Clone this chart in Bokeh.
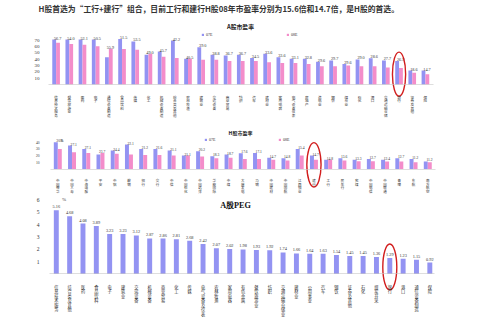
import numpy as np
from bokeh.plotting import figure
from bokeh.layouts import column
from bokeh.models import Range1d, FixedTicker, Legend, LegendItem
from bokeh.core.properties import value
from bokeh.embed import file_html
from bokeh.resources import INLINE

# ---------------- data ----------------
header = "H股首选为“工行+建行”组合，目前工行和建行H股08年市盈率分别为15.6倍和14.7倍，是H股的首选。"

a_pe_title = "A股市盈率"
a_pe_cats = ["信息技术服务", "餐饮旅游业", "医药", "电子", "通信设备制造", "食品饮料", "传媒", "化工",
             "机械设备制造", "综合类及其他", "农林牧渔", "建筑业", "交运设备", "商业贸易", "纺织", "汽车",
             "建材业", "家用电器", "电气设备仪表", "房地产", "造纸业", "钢铁", "煤炭业", "石化", "港口",
             "交通运输仓储", "银行", "证券及其他", "保险"]
a_pe_07 = [71, 71, 71, 71, 43, 72, 68, 47, 52, 69.5, 40.5, 59, 47, 46, 47, 42, 48.5, 43, 40.5, 40.5,
           36, 38, 32.5, 39.5, 41.5, 38, 37, 22, 22]
a_pe_08 = [66, 64, 62.6, 60.5, 56.4, 56, 55, 48.5, 44, 42, 40.5, 39, 39, 37, 37, 37, 35, 34, 34, 32.5,
           29, 29, 30, 29, 29, 27, 26, 18.5, 16]
a_pe_lbl = ["56.7", "54.0", "52.1", "50.5", "55.9", "51.5", "53.5", "49.0", "45.7", "42.2", "40.5", "39.0",
            "38.8", "36.7", "36.7", "34.5", "33.6", "33.6", "33.1", "32.8", "29.6", "29.7", "29.6", "29.0",
            "28.6", "27.7", "26.9", "18.6", "14.7"]
a_pe_yticks = [10, 20, 30, 40, 50, 60, 70]
a_pe_highlight = "银行"

h_pe_title = "H股市盈率"
h_pe_cats = ["中国神华", "中国人寿", "中海油服", "平安", "中铝", "鞍钢", "招行", "交行", "中信",
             "中国石化", "中国远洋", "华能国际", "中煤", "大唐发电", "马钢", "中国建材", "中国国航",
             "江西铜业", "建行", "工行", "民生行", "兖煤", "中国电信", "中国联通", "青啤", "东航", "南方航空"]
h_pe_07 = [40, 35, 30, 21.6, 27.6, 36.5, 30, 30, 27.6, 20, 26.6, 19, 21.6, 23.6, 24, 16.7, 16, 30, 20,
           13.7, 16, 13.7, 15, 13.7, 16, 15, 11.2]
h_pe_08 = [30, 25, 24, 24, 22.7, 21.6, 21, 21, 20, 20, 18.7, 16, 16.7, 15, 15, 13.7, 12.7, 20, 13.7,
           13.7, 12.7, 11.7, 11.7, 11.2, 11.2, 10, 10]
h_pe_lbl = ["30.8", "27.1", "27.1", "23.7", "24.4", "22.1", "21.2", "21.6", "21.1", "21.1", "20.2", "18.3",
            "18.7", "17.6", "17.1", "14.7", "14.8", "15.4", "14.7", "14.8", "13.6", "13.3", "12.7", "12.4",
            "12.7", "11.2", "11.2"]
h_pe_yticks = [10, 20, 30, 40]
h_pe_highlight = "建行"

series_names = ["07E", "08E"]

peg_title = "A股PEG"
peg_cats = ["信息技术服务", "综合类及其他", "医药", "食品饮料", "电子", "建筑业", "交运设备", "机械设备",
            "商业贸易", "化工", "传媒", "电气设备及仪表", "农林牧渔", "家用电器", "有色金属", "餐饮旅游业",
            "纺织", "交通运输仓储业", "建材业", "公用事业", "汽车", "钢铁", "证券及其他", "石化", "煤炭开采",
            "银行", "港口", "通信设备制造", "保险"]
peg_vals = [5.16, 4.68, 4.08, 3.89, 3.23, 3.23, 3.12, 2.87, 2.86, 2.81, 2.68, 2.42, 2.07, 2.02, 1.98,
            1.93, 1.92, 1.74, 1.66, 1.64, 1.63, 1.54, 1.45, 1.45, 1.36, 1.29, 1.23, 1.15, 0.92]
peg_yticks = [1, 2, 3, 4, 5, 6]
peg_highlight = "银行"

# ---------------- style ----------------
W = 480
PURPLE = "#9393F2"
PINK = "#F38DCA"
RED = "#D21E1E"
INK = "#333333"
CJK = "Noto Sans CJK SC"
SERIF = "Liberation Serif"


def setup(h, c0, step, base, scale):
    fig = figure(width=W, height=h,
                 x_range=Range1d(-c0 / step, (W - c0) / step),
                 y_range=Range1d(-(h - base) / scale, base / scale),
                 output_backend="svg", toolbar_location=None, min_border=0,
                 outline_line_color=None, border_fill_color="white",
                 background_fill_color="white")
    fig.grid.visible = False
    X = lambda px: (px - c0) / step
    Y = lambda py: (base - py) / scale
    return fig, X, Y


def style_axes(fig, X, cats, yticks, tick_size, cat_size, standoff, x_left, x_right):
    xa = fig.xaxis[0]
    ya = fig.yaxis[0]
    xa.fixed_location = 0
    xa.bounds = (X(x_left), X(x_right))
    xa.ticker = FixedTicker(ticks=list(range(len(cats))))
    xa.major_label_overrides = {i: "\n".join(c) for i, c in enumerate(cats)}
    xa.major_label_text_font = CJK
    xa.major_label_text_font_size = cat_size
    xa.major_label_text_line_height = 0.74
    xa.major_label_text_color = INK
    xa.major_label_standoff = standoff
    xa.major_tick_line_color = None
    xa.minor_tick_line_color = None
    xa.axis_line_color = "#c8c8c8"
    xa.axis_line_width = 0.6
    ya.fixed_location = X(47)
    ya.ticker = FixedTicker(ticks=yticks)
    ya.major_label_text_font = SERIF
    ya.major_label_text_font_size = tick_size
    ya.major_label_text_color = INK
    ya.major_label_standoff = 2
    ya.axis_line_color = None
    ya.major_tick_line_color = None
    ya.minor_tick_line_color = None


def pair_panel(h, c0, step, base, scale, cats, v07, v08, lbls, yticks, title, title_py, title_size,
               legend_loc, legend_spacing, highlight, ell_top_pad, ell_bottom, bar_w,
               tick_size, cat_size, lbl_size, standoff, x_left, x_right):
    fig, X, Y = setup(h, c0, step, base, scale)
    idx = np.arange(len(cats))
    r07 = fig.vbar(x=idx - bar_w / 2, top=v07, width=bar_w, fill_color=PURPLE, line_color=None)
    r08 = fig.vbar(x=idx + bar_w / 2, top=v08, width=bar_w, fill_color=PINK, line_color=None)
    tops = np.maximum(v07, v08)
    fig.text(x=idx + 0.12, y=tops, text=lbls, text_font=value(SERIF), text_font_size=lbl_size,
             text_align="center", text_baseline="bottom", text_color=INK)
    fig.text(x=[X(240)], y=[Y(title_py)], text=[title], text_font=value(CJK), text_font_size=title_size,
             text_font_style="bold", text_align="center", text_baseline="middle", text_color="#222222")
    hi = cats.index(highlight)
    top = tops[hi] + ell_top_pad / scale
    bot = -ell_bottom / scale
    fig.ellipse(x=[hi], y=[(top + bot) / 2], width=[1.0], height=[top - bot],
                fill_color=None, line_color=RED, line_width=1.4)
    style_axes(fig, X, cats, yticks, tick_size, cat_size, standoff, x_left, x_right)
    leg = Legend(items=[LegendItem(label=series_names[0], renderers=[r07]),
                        LegendItem(label=series_names[1], renderers=[r08])],
                 orientation="horizontal", location=legend_loc, glyph_width=3, glyph_height=3,
                 label_text_font_size="4px", label_text_font=SERIF, label_text_color=INK,
                 label_height=4, label_width=8, label_standoff=2, spacing=legend_spacing,
                 padding=0, margin=0, border_line_color=None, background_fill_alpha=0)
    fig.add_layout(leg)
    return fig, X, Y


# ---- panel 1 : A-share PE ----
p1, X1, Y1 = pair_panel(120, 55.6, 13.19, 84, 0.633, a_pe_cats, a_pe_07, a_pe_08, a_pe_lbl,
                        a_pe_yticks, a_pe_title, 26, "5.8px", (201, 83), 72, a_pe_highlight,
                        9, 11.7, 0.29, "5px", "3.6px", "4.2px", 4, 48, 433)
p1.text(x=[X1(38)], y=[Y1(8)], text=[header], text_font=value(CJK), text_font_size="7.8px",
        text_font_style="bold", text_align="left", text_baseline="middle", text_color="#333333")

# ---- panel 2 : H-share PE ----
p2, X2, Y2 = pair_panel(74, 57.3, 14.23, 48.5, 0.67, h_pe_cats, h_pe_07, h_pe_08, h_pe_lbl,
                        h_pe_yticks, h_pe_title, 12, "5px", (204, 52), 61, h_pe_highlight,
                        13, 18, 0.28, "3.6px", "3.5px", "3.6px", 3, 50, 435)
p2.text(x=[X2(61.5)], y=[Y2(20)], text=["%"], text_font=value(SERIF), text_font_size="4px",
        text_align="center", text_baseline="middle", text_color=INK)

# ---- panel 3 : A-share PEG ----
p3, X3, Y3 = setup(126, 55.8, 13.34, 79.4, 12.34)
idx3 = np.arange(len(peg_cats))
p3.vbar(x=idx3, top=peg_vals, width=0.37, fill_color=PURPLE, line_color=None)
p3.text(x=idx3, y=peg_vals, y_offset=-2, text=[f"{v:.2f}" for v in peg_vals], text_font=value(SERIF),
        text_font_size="4.3px", text_align="center", text_baseline="bottom", text_color=INK)
p3.text(x=[X3(235)], y=[Y3(11)], text=[peg_title], text_font=value(SERIF), text_font_size="8.2px",
        text_font_style="bold", text_align="center", text_baseline="middle", text_color="#111111")
p3.text(x=[X3(63.5)], y=[Y3(4.5)], text=["%"], text_font=value(SERIF), text_font_size="5px",
        text_align="center", text_baseline="middle", text_color=INK)
hi3 = peg_cats.index(peg_highlight)
top3 = peg_vals[hi3] + 14 / 12.34
bot3 = -16 / 12.34
p3.ellipse(x=[hi3], y=[(top3 + bot3) / 2], width=[1.05], height=[top3 - bot3],
           fill_color=None, line_color=RED, line_width=1.4)
style_axes(p3, X3, peg_cats, peg_yticks, "5.5px", "4.2px", 4, 49, 434)

layout = column(p1, p2, p3, spacing=0)
open("out.html", "w").write(file_html(layout, INLINE))
